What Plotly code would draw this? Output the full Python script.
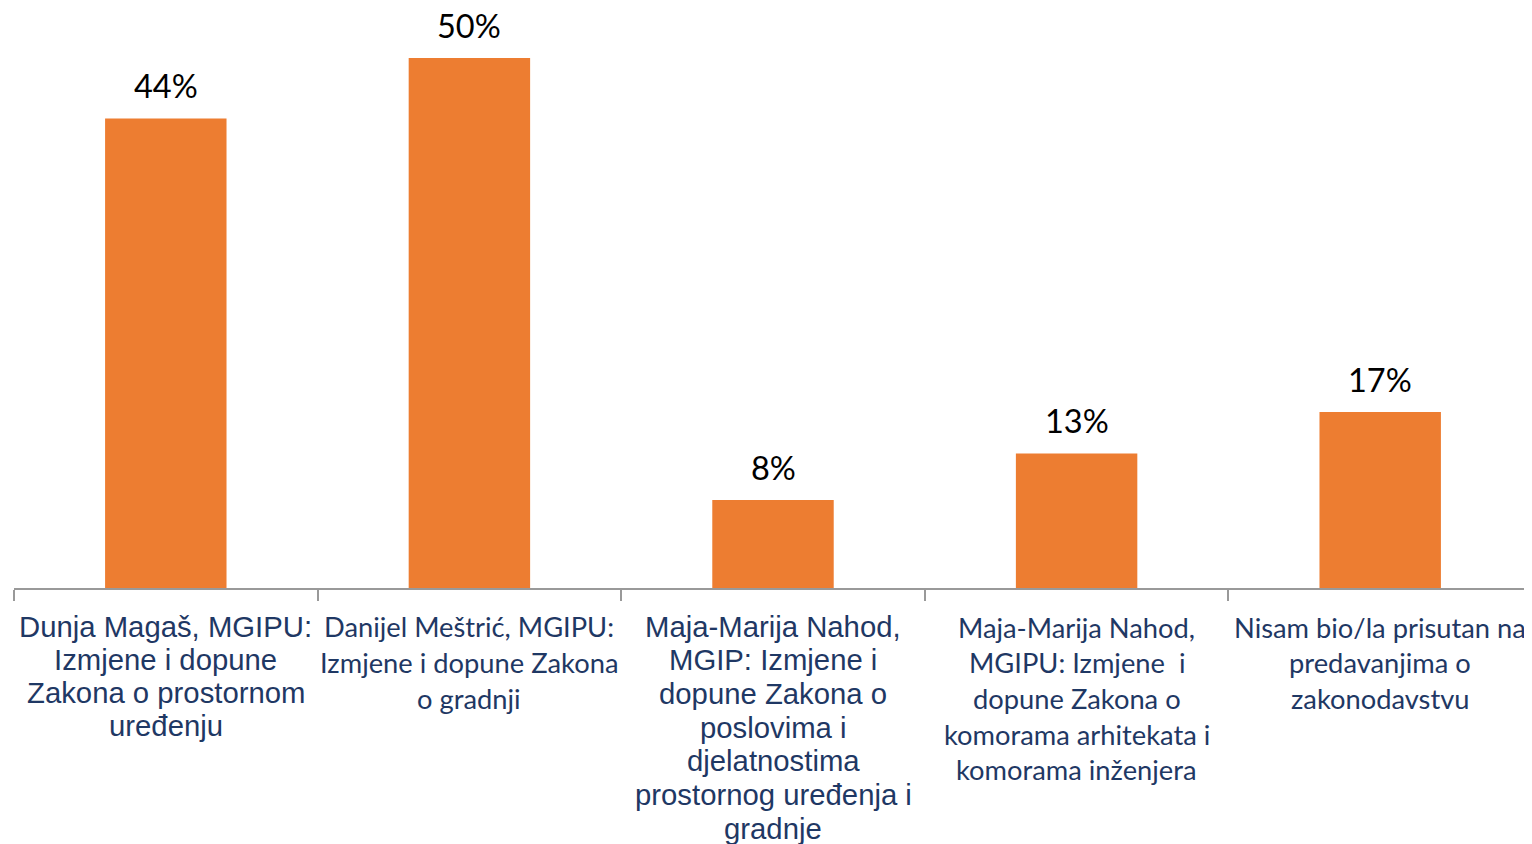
import plotly.graph_objects as go

# ---- data ----
categories = [
    "Dunja Magaš, MGIPU:<br>Izmjene i dopune<br>Zakona o prostornom<br>uređenju",
    "Danijel Meštrić, MGIPU:<br>Izmjene i dopune Zakona<br>o gradnji",
    "Maja-Marija Nahod,<br>MGIP: Izmjene i<br>dopune Zakona o<br>poslovima i<br>djelatnostima<br>prostornog uređenja i<br>gradnje",
    "Maja-Marija Nahod,<br>MGIPU: Izmjene  i<br>dopune Zakona o<br>komorama arhitekata i<br>komorama inženjera",
    "Nisam bio/la prisutan na<br>predavanjima o<br>zakonodavstvu",
]
values = [44.3, 50.0, 8.3, 12.7, 16.6]
value_labels = ["44%", "50%", "8%", "13%", "17%"]

# ---- styles ----
BAR_COLOR = "#ED7D31"
LABEL_COLOR = "#1F3864"
AXIS_COLOR = "#999999"
label_fonts = ["Liberation Sans", "Lato", "Liberation Sans", "Lato", "Lato"]
label_sizes = [29.3, 27.3, 29.3, 27.3, 27.3]
line_gaps = [33.3, 35.8, 33.7, 35.7, 35.8]
first_offsets = [38, 38.5, 38, 39, 39]  # px below axis to first line centre

fig = go.Figure(
    go.Bar(
        x=categories,
        y=values,
        marker=dict(color=BAR_COLOR, line=dict(width=0)),
        hoverinfo="skip",
    )
)

annotations = []
for cat, val, txt in zip(categories, values, value_labels):
    annotations.append(dict(
        x=cat, y=val, xref="x", yref="y", text=txt, showarrow=False,
        yanchor="middle", xanchor="center", yshift=33,
        font=dict(family="Lato", size=32.5, color="#000000"),
    ))

for i, cat in enumerate(categories):
    for j, line in enumerate(cat.split("<br>")):
        annotations.append(dict(
            x=cat, y=0, xref="x", yref="paper", text=line, showarrow=False,
            yanchor="middle", xanchor="center",
            yshift=-(first_offsets[i] + j * line_gaps[i]),
            font=dict(family=label_fonts[i], size=label_sizes[i], color=LABEL_COLOR),
        ))

fig.update_layout(
    width=1524, height=836, autosize=False,
    margin=dict(l=6, r=0, t=0, b=256, pad=0),
    paper_bgcolor="white", plot_bgcolor="white",
    bargap=0.6,
    showlegend=False,
    annotations=annotations,
    xaxis=dict(
        type="category", showline=True, linecolor=AXIS_COLOR, linewidth=1.5,
        ticks="outside", tickson="boundaries", ticklen=11, tickcolor=AXIS_COLOR,
        tickwidth=1.5, showticklabels=False, showgrid=False, zeroline=False,
        fixedrange=True,
    ),
    yaxis=dict(visible=False, range=[0, 54.72], fixedrange=True),
)

fig.write_html("out.html", config={"displayModeBar": False})
